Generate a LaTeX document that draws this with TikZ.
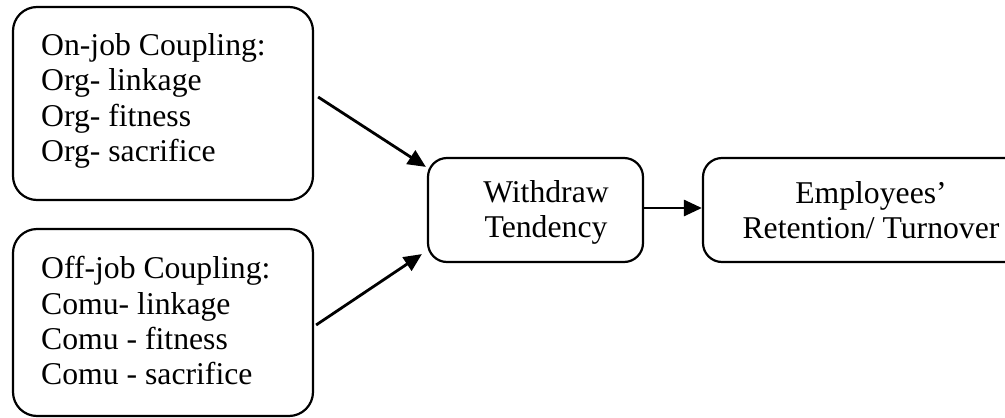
\documentclass[tikz,border=0pt]{standalone}
\usepackage{fontspec}
\setmainfont{Liberation Serif}
\usetikzlibrary{arrows.meta}
\begin{document}
\begin{tikzpicture}[x=1pt,y=1pt,
  box/.style={draw, line width=2.2pt, inner sep=0pt},
  bigbox/.style={box, rounded corners=24pt},
  smallbox/.style={box, rounded corners=19pt},
  lbl/.style={inner sep=0pt, font=\fontsize{31.7}{35.3}\selectfont},
  arr/.style={line width=2.8pt, -{Triangle[length=18pt,width=16pt]}}]
\useasboundingbox (0,0) rectangle (1005,-418);
% boxes
\node[bigbox, minimum width=300pt, minimum height=193pt] (onjob) at (163,-103.5) {};
\node[bigbox, minimum width=300pt, minimum height=187pt] (offjob) at (163,-322.5) {};
\node[smallbox, minimum width=215pt, minimum height=104pt] (withdraw) at (535.5,-210) {};
\node[smallbox, minimum width=337pt, minimum height=104pt] (outcome) at (871.5,-210) {};
% texts
\node[lbl, anchor=north west, align=left] (onjobtext) at (41,-33.3)
  {On-job Coupling:\\Org- linkage\\Org- fitness\\Org- sacrifice};
\node[lbl, anchor=north west, align=left] (offjobtext) at (41,-256.3)
  {Off-job Coupling:\\Comu- linkage\\Comu - fitness\\Comu - sacrifice};
\node[lbl, anchor=north, align=center] (withdrawtext) at (546,-180.3)
  {Withdraw\\Tendency};
\node[lbl, anchor=north, align=center] (outcometext) at (871,-181.3)
  {Employees’\\Retention/ Turnover};
% connectors
\draw[arr] ([xshift=4pt,yshift=6.5pt]onjob.east) -- ([xshift=-1pt,yshift=-10pt]withdraw.north west);
\draw[arr] ([xshift=2pt,yshift=-2.5pt]offjob.east) -- ([xshift=-5pt,yshift=9pt]withdraw.south west);
\draw[arr] ([yshift=2pt]withdraw.east) -- ([yshift=2pt]outcome.west);
\end{tikzpicture}
\end{document}
